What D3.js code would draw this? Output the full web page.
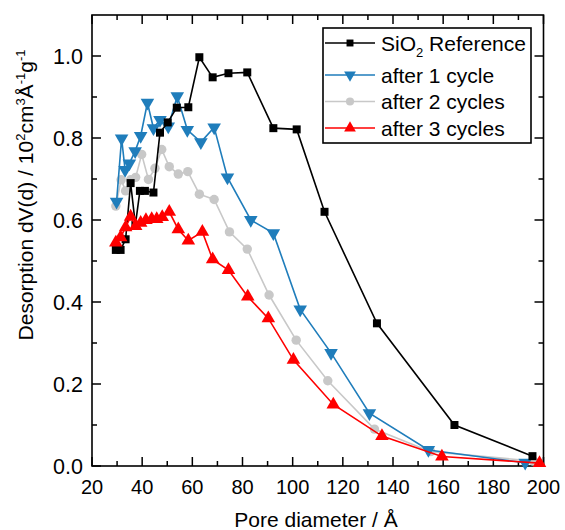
<!DOCTYPE html>
<html><head><meta charset="utf-8">
<script src="https://cdn.jsdelivr.net/npm/d3@7"></script>
<style>body{margin:0;background:#fff}svg text{font-family:"Liberation Sans",Arial,sans-serif;fill:#000}</style>
</head><body><svg id="c" width="565" height="530"></svg>
<script>
const seriesNames = ["SiO2 Reference", "after 1 cycle", "after 2 cycles", "after 3 cycles"];
const refX = [29.5,31.4,33.4,35.4,37.3,39.1,41.1,44.5,47.1,50.2,53.8,58.4,62.8,68.1,74.4,81.9,92.3,101.6,112.7,133.6,164.5,195.6];
const refY = [0.527,0.527,0.553,0.690,0.588,0.671,0.671,0.667,0.813,0.838,0.874,0.875,0.997,0.948,0.958,0.960,0.824,0.821,0.620,0.348,0.100,0.024];
const c1X = [29.8,31.8,33.2,34.9,37.2,39.4,42.1,44.5,47.1,50.4,54.0,58.0,63.4,68.7,74.0,83.3,92.3,103.0,115.3,130.6,154.1,192.7];
const c1Y = [0.645,0.799,0.722,0.738,0.768,0.805,0.886,0.824,0.844,0.828,0.902,0.820,0.790,0.826,0.704,0.600,0.568,0.382,0.276,0.129,0.039,0.008];
const c2X = [29.5,31.6,33.4,35.4,37.4,39.8,42.5,45.1,47.8,50.8,54.4,58.2,62.8,68.7,74.8,81.9,90.6,101.4,114.0,132.6,155.0,196.0];
const c2Y = [0.634,0.698,0.671,0.698,0.704,0.760,0.699,0.726,0.772,0.730,0.712,0.718,0.663,0.650,0.571,0.529,0.417,0.307,0.208,0.090,0.035,0.012];
const c3X = [29.5,31.4,33.4,35.4,37.4,39.4,41.5,43.8,45.8,48.0,50.8,54.4,58.4,64.0,68.1,74.4,82.1,90.3,100.3,116.2,135.6,159.5,198.4];
const c3Y = [0.545,0.558,0.582,0.608,0.585,0.593,0.600,0.602,0.602,0.607,0.620,0.577,0.550,0.571,0.504,0.478,0.413,0.360,0.259,0.150,0.073,0.023,0.007];
const xTicks = [20,40,60,80,100,120,140,160,180,200];
const yTicks = [0.0,0.2,0.4,0.6,0.8,1.0];

const colors = ["#000000","#1f7dbb","#c8c8c8","#ff0000"];
const symbols = [d3.symbolSquare, d3.symbolTriangle, d3.symbolCircle, d3.symbolTriangle];
const symSize = [64, 80, 70, 80];
const symRot = [0, 180, 0, 0];

const svg = d3.select("#c");
const x = d3.scaleLinear().domain([20,200]).range([92,543.5]);
const y = d3.scaleLinear().domain([0,1.1]).range([466,15]);

const g = svg.append("g");
// frame
g.append("rect").attr("x",x(20)).attr("y",y(1.1)).attr("width",x(200)-x(20)).attr("height",y(0)-y(1.1))
 .attr("fill","none").attr("stroke","#000").attr("stroke-width",1.6);

const xMinor = d3.range(30,200,20);
const yMinor = d3.range(0.1,1.1,0.2);
function tickLines(vals, len, axis){
  vals.forEach(v=>{
    if(axis==="x"){
      g.append("line").attr("x1",x(v)).attr("x2",x(v)).attr("y1",y(0)).attr("y2",y(0)-len).attr("stroke","#000").attr("stroke-width",1.5);
      g.append("line").attr("x1",x(v)).attr("x2",x(v)).attr("y1",y(1.1)).attr("y2",y(1.1)+len).attr("stroke","#000").attr("stroke-width",1.5);
    } else {
      g.append("line").attr("x1",x(20)).attr("x2",x(20)+len).attr("y1",y(v)).attr("y2",y(v)).attr("stroke","#000").attr("stroke-width",1.5);
      g.append("line").attr("x1",x(200)).attr("x2",x(200)-len).attr("y1",y(v)).attr("y2",y(v)).attr("stroke","#000").attr("stroke-width",1.5);
    }
  });
}
tickLines(xTicks,9,"x"); tickLines(xMinor,5,"x");
tickLines(yTicks,9,"y"); tickLines(yMinor,5,"y");

// tick labels
g.selectAll(".xl").data(xTicks).enter().append("text")
 .attr("x",d=>x(d)).attr("y",493.5).attr("text-anchor","middle").attr("font-size",20).text(d=>d);
g.selectAll(".yl").data(yTicks).enter().append("text")
 .attr("x",83).attr("y",d=>y(d)+8).attr("text-anchor","end").attr("font-size",21.5).text(d=>d.toFixed(1));

// axis labels
g.append("text").attr("x",316).attr("y",526.5).attr("text-anchor","middle").attr("font-size",21).text("Pore diameter / Å");
const yl = g.append("text").attr("transform","translate(33,195) rotate(-90)").attr("text-anchor","middle").attr("font-size",21);
yl.append("tspan").text("Desorption dV(d) / 10");
yl.append("tspan").attr("font-size",13).attr("dy",-8).text("2");
yl.append("tspan").attr("dy",8).text("cm");
yl.append("tspan").attr("font-size",13).attr("dy",-8).text("3");
yl.append("tspan").attr("dy",8).text("Å");
yl.append("tspan").attr("font-size",13).attr("dy",-8).text("-1");
yl.append("tspan").attr("dy",8).text("g");
yl.append("tspan").attr("font-size",13).attr("dy",-8).text("-1");

// series
const allX = [refX,c1X,c2X,c3X], allY=[refY,c1Y,c2Y,c3Y];
const line = d3.line().x(d=>x(d[0])).y(d=>y(d[1]));
[2,1,0,3].forEach(i=>{
  const pts = allX[i].map((v,k)=>[v,allY[i][k]]);
  const sg = g.append("g");
  sg.append("path").attr("d",line(pts)).attr("fill","none").attr("stroke",colors[i]).attr("stroke-width",1.6);
  sg.selectAll("path.m").data(pts).enter().append("path").attr("class","m")
    .attr("d",d3.symbol().type(symbols[i]).size(symSize[i]))
    .attr("transform",d=>`translate(${x(d[0])},${y(d[1])}) rotate(${symRot[i]})`)
    .attr("fill",colors[i]);
});

// legend
const lg = g.append("g");
lg.append("rect").attr("x",323).attr("y",28).attr("width",208).attr("height",115).attr("fill","#fff").attr("stroke","#000").attr("stroke-width",1.6);
const rowY = [43,75,101.5,128];
seriesNames.forEach((n,i)=>{
  lg.append("line").attr("x1",325).attr("x2",375).attr("y1",rowY[i]).attr("y2",rowY[i]).attr("stroke",colors[i]).attr("stroke-width",1.6);
  lg.append("path").attr("d",d3.symbol().type(symbols[i]).size(symSize[i]*0.75))
    .attr("transform",`translate(350,${rowY[i]}) rotate(${symRot[i]})`).attr("fill",colors[i]);
  const t = lg.append("text").attr("x",381).attr("y",rowY[i]+7.5).attr("font-size",21);
  if(i===0){
    t.append("tspan").text("SiO");
    t.append("tspan").attr("font-size",13).attr("dy",6).text("2");
    t.append("tspan").attr("dy",-6).text(" Reference");
  } else t.text(n);
});
</script></body></html>
